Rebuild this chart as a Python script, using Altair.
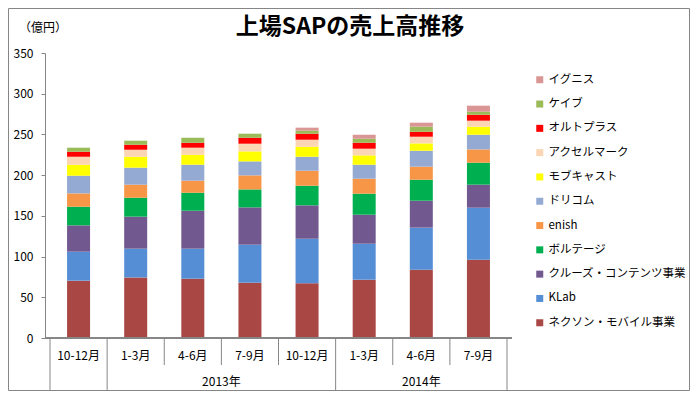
import altair as alt
import pandas as pd

months = ["10-12月", "1-3月", "4-6月", "7-9月", "10-12月", "1-3月", "4-6月", "7-9月"]
years = ["", "2013年", "2013年", "2013年", "2013年", "2014年", "2014年", "2014年"]

series = ["ネクソン・モバイル事業", "KLab", "クルーズ・コンテンツ事業", "ボルテージ", "enish",
          "ドリコム", "モブキャスト", "アクセルマーク", "オルトプラス", "ケイブ", "イグニス"]
colors = ["#A94744", "#558ED5", "#71588F", "#00B050", "#F79646",
          "#95AAD3", "#FFFF00", "#FCD5B4", "#FF0000", "#9BBB59", "#D99694"]

nexon = [70.4, 74.4, 72.8, 67.9, 67.1, 71.6, 83.9, 96.2]
klab = [35.6, 35.3, 36.9, 46.7, 54.8, 44.2, 51.6, 63.8]
crooz = [32.3, 39.3, 46.6, 45.8, 41.0, 35.6, 33.1, 28.3]
voltage = [22.9, 23.3, 22.1, 22.1, 24.1, 25.8, 25.8, 27.0]
enish = [16.4, 16.0, 14.8, 17.2, 18.4, 18.4, 16.0, 16.3]
drecom = [21.7, 20.9, 19.6, 17.2, 17.2, 17.2, 19.6, 18.0]
mobcast = [13.5, 13.4, 12.3, 12.3, 12.3, 11.5, 9.0, 9.9]
accel = [9.8, 8.6, 8.6, 9.4, 8.6, 8.2, 8.2, 7.4]
oltplus = [6.2, 6.2, 6.1, 7.4, 7.4, 7.3, 6.1, 7.3]
keib = [4.9, 4.9, 6.1, 4.9, 3.7, 4.9, 6.2, 3.7]
igunis = [0, 0, 0, 0, 3.7, 4.9, 4.9, 7.4]

values = [nexon, klab, crooz, voltage, enish, drecom, mobcast, accel, oltplus, keib, igunis]

FONT = "Noto Sans CJK JP"
GRAY = "#868686"
W, H = 467, 285
PAD = {"left": 37, "top": 45, "right": 178, "bottom": 53}

rows = []
for si, (name, vals) in enumerate(zip(series, values)):
    for i, v in enumerate(vals):
        rows.append({"idx": i, "series": name, "order": si, "value": v})
df = pd.DataFrame(rows)

cat = pd.DataFrame({"idx": list(range(len(months))), "month": months, "year": years})

# separators between categories
seps = []
for k in range(len(months) + 1):
    left = years[k - 1] if k > 0 else None
    right = years[k] if k < len(months) else None
    long_ = (left != right)
    seps.append({"pos": k - 0.5, "len": "long" if long_ else "short"})
sep_df = pd.DataFrame(seps)

yr = cat[cat["year"] != ""].groupby("year", as_index=False)["idx"].mean()

xscale = alt.Scale(domain=[-0.5, len(months) - 0.5], nice=False, zero=False)
x = alt.X("idx:Q", scale=xscale, axis=None)

bars = alt.Chart(df).mark_bar(size=23).encode(
    x=x,
    y=alt.Y("sum(value):Q", stack="zero",
            scale=alt.Scale(domain=[0, 350], nice=False),
            axis=alt.Axis(values=list(range(0, 351, 50)), title=None, grid=False,
                          domainColor=GRAY, tickColor=GRAY, tickSize=4,
                          labelFont=FONT, labelFontSize=12, labelColor="#000000",
                          labelPadding=8)),
    color=alt.Color("series:N", scale=alt.Scale(domain=series[::-1], range=colors[::-1]),
                    legend=alt.Legend(title=None, orient="none", legendX=489, legendY=21,
                                      symbolType="square", symbolSize=49, symbolStrokeWidth=0,
                                      labelFont=FONT, labelFontSize=11.5, labelColor="#000000",
                                      rowPadding=11.3, labelOffset=3, padding=0,
                                      labelLimit=200)),
    order=alt.Order("order:Q", sort="ascending"),
)

baseline = alt.Chart(cat).mark_rule(color=GRAY).encode(
    x=alt.value(0), x2=alt.value(W), y=alt.value(H))

sep_short = alt.Chart(sep_df).transform_filter("datum.len == 'short'").mark_rule(color=GRAY).encode(
    x=alt.X("pos:Q", scale=xscale, axis=None), y=alt.value(H), y2=alt.value(H + 27))
sep_long = alt.Chart(sep_df).transform_filter("datum.len == 'long'").mark_rule(color=GRAY).encode(
    x=alt.X("pos:Q", scale=xscale, axis=None), y=alt.value(H), y2=alt.value(H + 53))

month_text = alt.Chart(cat).mark_text(font=FONT, fontSize=12, color="#000000", baseline="middle").encode(
    x=x, y=alt.value(H + 18), text="month:N")
year_text = alt.Chart(yr).mark_text(font=FONT, fontSize=12, color="#000000", baseline="middle").encode(
    x=alt.X("idx:Q", scale=xscale, axis=None), y=alt.value(H + 44), text="year:N")

title = alt.Chart(cat).transform_filter("datum.idx == 0").mark_text(
    font=FONT, fontSize=23, fontWeight="bold", color="#000000", baseline="middle", align="center"
).encode(x=alt.value(305), y=alt.value(-26), text=alt.value("上場SAPの売上高推移"))

unit = alt.Chart(cat).transform_filter("datum.idx == 0").mark_text(
    font=FONT, fontSize=12, color="#000000", baseline="middle", align="center"
).encode(x=alt.value(-2), y=alt.value(-25), text=alt.value("（億円）"))

border = alt.Chart(cat).transform_filter("datum.idx == 0").mark_rect(
    fill=None, stroke=GRAY, strokeWidth=1
).encode(x=alt.value(-PAD["left"] + 0.5), x2=alt.value(W + PAD["right"] - 0.5),
         y=alt.value(-PAD["top"] + 0.5), y2=alt.value(H + PAD["bottom"] - 0.5))

chart = alt.layer(border, bars, baseline, sep_short, sep_long, month_text, year_text, title, unit).properties(
    width=W, height=H, padding=PAD, autosize=alt.AutoSizeParams(type="none"),
    background="#FFFFFF"
).configure_view(stroke=None)

chart.save("out.html", embed_options={"renderer": "svg", "actions": False})
